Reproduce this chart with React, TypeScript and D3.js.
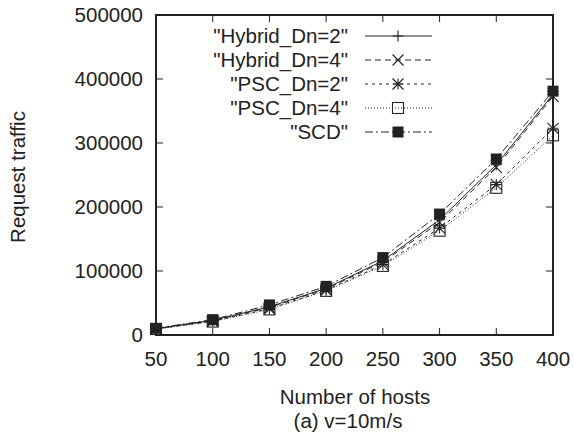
import { useEffect, useRef } from "react";
import * as d3 from "d3";

const HOSTS = [50, 100, 150, 200, 250, 300, 350, 400];
const HYBRID_DN2 = [10000, 23000, 44000, 73000, 116000, 180000, 266000, 376000];
const HYBRID_DN4 = [9800, 22500, 43000, 72000, 114000, 176000, 262000, 373000];
const PSC_DN2 = [9500, 21500, 41000, 70000, 110000, 167000, 235000, 323000];
const PSC_DN4 = [9300, 21000, 40000, 69000, 108000, 163000, 230000, 312000];
const SCD = [10500, 24000, 47000, 76000, 121000, 189000, 275000, 381000];
const Y_TICKS = [0, 100000, 200000, 300000, 400000, 500000];

const SERIES = [
  { name: '"Hybrid_Dn=2"', values: HYBRID_DN2, dash: "", marker: "plus" },
  { name: '"Hybrid_Dn=4"', values: HYBRID_DN4, dash: "6,4", marker: "cross" },
  { name: '"PSC_Dn=2"', values: PSC_DN2, dash: "3,4", marker: "star" },
  { name: '"PSC_Dn=4"', values: PSC_DN4, dash: "1,2", marker: "box" },
  { name: '"SCD"', values: SCD, dash: "8,3,2,3", marker: "fbox" },
];

const FONT = "'Liberation Sans', Arial, sans-serif";
const FS = 20.5;

function drawMarker(g: d3.Selection<SVGGElement, unknown, null, undefined>, kind: string, cx: number, cy: number) {
  const s = 5.5;
  const ink = "#222";
  if (kind === "plus") {
    g.append("path").attr("d", `M${cx - s},${cy}H${cx + s}M${cx},${cy - s}V${cy + s}`)
      .attr("stroke", ink).attr("stroke-width", 1.1);
  } else if (kind === "cross") {
    g.append("path").attr("d", `M${cx - s},${cy - s}L${cx + s},${cy + s}M${cx - s},${cy + s}L${cx + s},${cy - s}`)
      .attr("stroke", ink).attr("stroke-width", 1.1);
  } else if (kind === "star") {
    g.append("path")
      .attr("d", `M${cx - s},${cy}H${cx + s}M${cx},${cy - s}V${cy + s}M${cx - s},${cy - s}L${cx + s},${cy + s}M${cx - s},${cy + s}L${cx + s},${cy - s}`)
      .attr("stroke", ink).attr("stroke-width", 1.1);
  } else if (kind === "box") {
    g.append("rect").attr("x", cx - s).attr("y", cy - s).attr("width", 2 * s).attr("height", 2 * s)
      .attr("fill", "none").attr("stroke", ink).attr("stroke-width", 1.1);
  } else {
    g.append("rect").attr("x", cx - s).attr("y", cy - s).attr("width", 2 * s).attr("height", 2 * s)
      .attr("fill", ink);
  }
}

export default function App() {
  const svgRef = useRef<SVGSVGElement>(null);

  useEffect(() => {
    const svg = d3.select(svgRef.current);
    svg.selectAll("*").remove();

    const left = 156, right = 553, top = 15, bottom = 335;
    const x = d3.scaleLinear().domain([50, 400]).range([left, right]);
    const y = d3.scaleLinear().domain([0, 500000]).range([bottom, top]);
    const ink = "#222";
    const tick = 7;

    const g = svg.append("g") as unknown as d3.Selection<SVGGElement, unknown, null, undefined>;

    // ticks on all four sides, pointing inward
    for (const t of HOSTS) {
      g.append("line").attr("x1", x(t)).attr("x2", x(t)).attr("y1", bottom).attr("y2", bottom - tick).attr("stroke", ink);
      g.append("line").attr("x1", x(t)).attr("x2", x(t)).attr("y1", top).attr("y2", top + tick).attr("stroke", ink);
      g.append("text").attr("x", x(t)).attr("y", 366).attr("text-anchor", "middle")
        .attr("font-family", FONT).attr("font-size", FS).attr("fill", ink).text(t);
    }
    for (const t of Y_TICKS) {
      g.append("line").attr("x1", left).attr("x2", left + tick).attr("y1", y(t)).attr("y2", y(t)).attr("stroke", ink);
      g.append("line").attr("x1", right).attr("x2", right - tick).attr("y1", y(t)).attr("y2", y(t)).attr("stroke", ink);
      g.append("text").attr("x", left - 13).attr("y", y(t)).attr("dy", "0.36em").attr("text-anchor", "end")
        .attr("font-family", FONT).attr("font-size", FS).attr("fill", ink).text(t);
    }

    // lines
    const line = d3.line<number>().x((_, i) => x(HOSTS[i])).y((d) => y(d));
    for (const s of SERIES) {
      g.append("path").attr("d", line(s.values)).attr("fill", "none").attr("stroke", ink)
        .attr("stroke-width", 1).attr("stroke-dasharray", s.dash || null);
      s.values.forEach((v, i) => drawMarker(g, s.marker, x(HOSTS[i]), y(v)));
    }

    // frame
    g.append("rect").attr("x", left).attr("y", top).attr("width", right - left).attr("height", bottom - top)
      .attr("fill", "none").attr("stroke", ink).attr("stroke-width", 2);

    // legend
    SERIES.forEach((s, i) => {
      const ly = 36 + i * 24;
      g.append("text").attr("x", 348).attr("y", ly).attr("dy", "0.36em").attr("text-anchor", "end")
        .attr("font-family", FONT).attr("font-size", FS).attr("fill", ink).text(s.name);
      g.append("line").attr("x1", 365).attr("x2", 432).attr("y1", ly).attr("y2", ly).attr("stroke", ink)
        .attr("stroke-dasharray", s.dash || null);
      drawMarker(g, s.marker, 398, ly);
    });

    // axis labels
    g.append("text").attr("x", 355).attr("y", 404).attr("text-anchor", "middle")
      .attr("font-family", FONT).attr("font-size", FS).attr("fill", ink).text("Number of hosts");
    g.append("text").attr("x", 348).attr("y", 428).attr("text-anchor", "middle")
      .attr("font-family", FONT).attr("font-size", FS).attr("fill", ink).text("(a) v=10m/s");
    g.append("text").attr("transform", `translate(25,177) rotate(-90)`).attr("text-anchor", "middle")
      .attr("font-family", FONT).attr("font-size", FS).attr("fill", ink).text("Request traffic");
  }, []);

  return (
    <svg ref={svgRef} width={574} height={434}
      style={{ position: "absolute", left: 0, top: 0, background: "#fff" }} />
  );
}
